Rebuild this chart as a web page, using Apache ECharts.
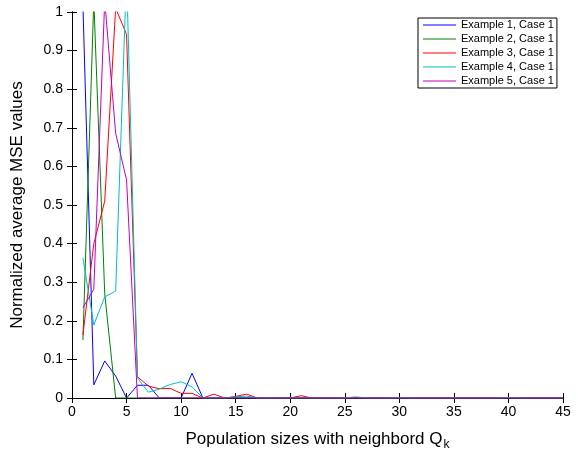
<!DOCTYPE html>
<html>
<head>
    <meta charset="utf-8">
    <title>ECharts</title>
    <script src="https://cdn.jsdelivr.net/npm/echarts@6/dist/echarts.min.js"></script>
    <style>
        html, body { margin: 0; background: #fff; }
        #main { width: 578px; height: 457px; }
    </style>
</head>
<body>
<div id="main"></div>
<script type="text/javascript">
    // population sizes (x)
    var popSizes = [1, 2, 3, 4, 5, 6, 7, 8, 9, 10, 11, 12, 13, 14, 15, 16, 17, 18, 19, 20,
        21, 22, 23, 24, 25, 26, 27, 28, 29, 30, 31, 32, 33, 34, 35, 36, 37, 38, 39, 40,
        41, 42, 43, 44, 45];

    var ex1 = [1.02, 0.034, 0.096, 0.057, 0, 0.033, 0.033, 0, 0, 0, 0.064, 0, 0, 0, 0, 0, 0, 0, 0, 0,
        0, 0, 0, 0, 0, 0, 0, 0, 0, 0, 0, 0, 0, 0, 0, 0, 0, 0, 0, 0, 0, 0, 0, 0, 0];
    var ex2 = [0.15, 1.03, 0.27, 0, 0, 0, 0, 0, 0, 0, 0, 0, 0, 0, 0, 0, 0, 0, 0, 0,
        0, 0, 0, 0, 0, 0, 0, 0, 0, 0, 0, 0, 0, 0, 0, 0, 0, 0, 0, 0, 0, 0, 0, 0, 0];
    var ex3 = [0.163, 0.40, 0.51, 1.01, 0.942, 0.055, 0.031, 0.024, 0.025, 0.012, 0.012, 0, 0.01, 0, 0.004, 0.01, 0, 0, 0, 0,
        0.006, 0, 0, 0, 0, 0, 0, 0, 0, 0, 0, 0, 0, 0, 0, 0, 0, 0, 0, 0, 0, 0, 0, 0, 0];
    var ex4 = [0.363, 0.189, 0.262, 0.277, 1.1, 0.052, 0.015, 0.023, 0.035, 0.042, 0.029, 0, 0, 0, 0.003, 0.005, 0, 0, 0, 0,
        0, 0, 0, 0, 0, 0.003, 0, 0, 0, 0.001, 0, 0, 0, 0, 0, 0, 0, 0, 0, 0.001, 0, 0, 0, 0, 0];
    var ex5 = [0.234, 0.282, 1.03, 0.686, 0.565, 0, 0, 0, 0, 0, 0, 0, 0, 0, 0, 0, 0, 0, 0, 0,
        0, 0, 0, 0, 0, 0, 0, 0, 0, 0, 0, 0, 0, 0, 0, 0, 0, 0, 0, 0, 0, 0, 0, 0, 0];

    var names = ['Example 1, Case 1', 'Example 2, Case 1', 'Example 3, Case 1', 'Example 4, Case 1', 'Example 5, Case 1'];
    var colors = ['#0000ff', '#008000', '#ff0000', '#00bfbf', '#bf00bf'];

    var font = 'Liberation Sans, Arial, Helvetica, sans-serif';

    function pairs(ys) {
        return ys.map(function (v, i) { return [popSizes[i], v]; });
    }

    var myChart = echarts.init(document.getElementById('main'));

    var frameAxis = {
        axisLine: { show: true, lineStyle: { color: '#000', width: 1 } },
        axisTick: { show: true, inside: true, length: 5, lineStyle: { color: '#000' } },
        splitLine: { show: false }
    };

    myChart.setOption({
        animation: false,
        backgroundColor: '#fff',
        color: colors,
        textStyle: { fontFamily: font },
        grid: { left: 72, right: 15, top: 12, bottom: 59, containLabel: false },
        legend: {
            orient: 'vertical',
            left: 418,
            top: 18,
            backgroundColor: '#fff',
            borderColor: '#000',
            borderWidth: 1,
            borderRadius: 0,
            padding: [1, 3, 1, 5],
            icon: 'rect',
            itemWidth: 33,
            itemHeight: 1.2,
            itemGap: 2,
            textStyle: { fontFamily: font, fontSize: 11, lineHeight: 12, color: '#000' },
            data: names
        },
        xAxis: [
            Object.assign({
                type: 'value', min: 0, max: 45, interval: 5, position: 'bottom',
                name: 'Population sizes with neighbord Q{sub|k}',
                nameLocation: 'middle',
                nameGap: 30,
                nameTextStyle: {
                    fontFamily: font, fontSize: 17, color: '#000',
                    rich: { sub: { fontFamily: font, fontSize: 12, color: '#000', padding: [11, 0, 0, 1] } }
                },
                axisLabel: { fontFamily: font, fontSize: 14, color: '#000', margin: 7 }
            }, frameAxis),
            Object.assign({
                type: 'value', min: 0, max: 45, interval: 5, position: 'top',
                axisLabel: { show: false }
            }, frameAxis)
        ],
        yAxis: [
            Object.assign({
                type: 'value', min: 0, max: 1, interval: 0.1, position: 'left',
                name: 'Normalized average MSE values',
                nameLocation: 'middle',
                nameGap: 46,
                nameTextStyle: { fontFamily: font, fontSize: 17, color: '#000' },
                axisLabel: {
                    fontFamily: font, fontSize: 14, color: '#000', margin: 9,
                    formatter: function (v) { return String(Math.round(v * 10) / 10); }
                }
            }, frameAxis),
            Object.assign({
                type: 'value', min: 0, max: 1, interval: 0.1, position: 'right',
                axisLabel: { show: false }
            }, frameAxis)
        ],
        series: [ex1, ex2, ex3, ex4, ex5].map(function (ys, k) {
            return {
                name: names[k],
                type: 'line',
                xAxisIndex: 0,
                yAxisIndex: 0,
                symbol: 'none',
                clip: true,
                lineStyle: { width: 1, color: colors[k] },
                itemStyle: { color: colors[k] },
                data: pairs(ys)
            };
        })
    });
</script>
</body>
</html>
